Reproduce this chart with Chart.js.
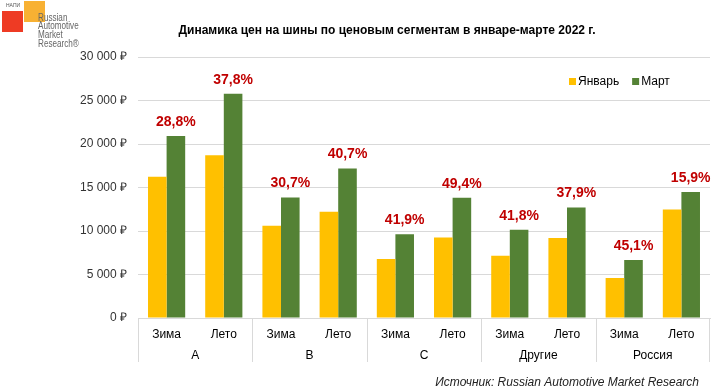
<!DOCTYPE html>
<html>
<head>
<meta charset="utf-8">
<script src="https://cdn.jsdelivr.net/npm/chart.js@4.4.1/dist/chart.umd.min.js"></script>
<style>
  html, body { margin: 0; padding: 0; background: #fff; }
  #wrap { width: 713px; height: 391px; position: relative; }
</style>
</head>
<body>
<div id="wrap"><canvas id="chart" width="713" height="391"></canvas></div>
<script>
const subLabels = ['Зима', 'Лето', 'Зима', 'Лето', 'Зима', 'Лето', 'Зима', 'Лето', 'Зима', 'Лето'];
const groups = ['A', 'B', 'C', 'Другие', 'Россия'];
const january = [16250, 18700, 10600, 12200, 6780, 9250, 7150, 9200, 4600, 12480];
const march = [20930, 25770, 13850, 17170, 9620, 13820, 10140, 12690, 6670, 14470];
const growth = ['28,8%', '37,8%', '30,7%', '40,7%', '41,9%', '49,4%', '41,8%', '37,9%', '45,1%', '15,9%'];

const FONT = 'Arial, "Liberation Sans", sans-serif';
const fmtRub = (v) => String(v).replace(/\B(?=(\d{3})+(?!\d))/g, ' ') + ' ₽';

const extras = {
  id: 'extras',
  afterDraw(chart) {
    const ctx = chart.ctx;
    const x = chart.scales.x;
    const area = chart.chartArea;
    ctx.save();

    // growth labels above March bars
    const meta = chart.getDatasetMeta(1);
    ctx.font = 'bold 14px ' + FONT;
    ctx.fillStyle = '#c00000';
    ctx.textAlign = 'center';
    ctx.textBaseline = 'bottom';
    meta.data.forEach((bar, i) => {
      ctx.fillText(growth[i], bar.x, bar.y - 7);
    });

    // group separators and group labels
    const step = x.getPixelForValue(1) - x.getPixelForValue(0);
    ctx.strokeStyle = '#d9d9d9';
    ctx.lineWidth = 1;
    ctx.font = '12px ' + FONT;
    ctx.fillStyle = '#000';
    ctx.textBaseline = 'middle';
    groups.forEach((g, gi) => {
      const left = x.getPixelForValue(gi * 2) - step / 2;
      const right = x.getPixelForValue(gi * 2 + 1) + step / 2;
      ctx.beginPath();
      ctx.moveTo(Math.round(left) + 0.5, area.bottom);
      ctx.lineTo(Math.round(left) + 0.5, area.bottom + 44);
      if (gi === groups.length - 1) {
        ctx.moveTo(Math.round(right) - 0.5, area.bottom);
        ctx.lineTo(Math.round(right) - 0.5, area.bottom + 44);
      }
      ctx.stroke();
      ctx.fillText(g, (left + right) / 2, area.bottom + 38);
    });

    // title
    ctx.font = 'bold 12px ' + FONT;
    ctx.fillStyle = '#000';
    ctx.textAlign = 'center';
    ctx.fillText('Динамика цен на шины по ценовым сегментам в январе-марте 2022 г.', 387, 31);

    // legend
    ctx.font = '12px ' + FONT;
    ctx.textAlign = 'left';
    let lx = 569;
    chart.data.datasets.forEach((ds) => {
      ctx.fillStyle = ds.backgroundColor;
      ctx.fillRect(lx, 78, 7, 7);
      ctx.fillStyle = '#000';
      ctx.fillText(ds.label, lx + 9, 82);
      lx += 9 + ctx.measureText(ds.label).width + 13;
    });

    // source
    ctx.font = 'italic 12px ' + FONT;
    ctx.textAlign = 'right';
    ctx.fillStyle = '#222';
    ctx.fillText('Источник: Russian Automotive Market Research', 699, 383);

    // logo
    ctx.fillStyle = '#ee3b24';
    ctx.fillRect(2, 11, 21, 21);
    ctx.fillStyle = '#f8b133';
    ctx.fillRect(24, 1, 21, 21);
    ctx.fillStyle = '#555';
    ctx.font = '5px ' + FONT;
    ctx.textAlign = 'left';
    ctx.fillText('НАПИ', 6, 6);
    ctx.save();
    ctx.translate(38, 0);
    ctx.scale(0.74, 1);
    ctx.font = '11px ' + FONT;
    ctx.fillStyle = '#666';
    ['Russian', 'Automotive', 'Market', 'Research®'].forEach((t, i) => {
      ctx.fillText(t, 0, 17.5 + i * 8.7);
    });
    ctx.restore();
    ctx.restore();
  }
};

new Chart(document.getElementById('chart'), {
  type: 'bar',
  data: {
    labels: subLabels,
    datasets: [
      {
        label: 'Январь',
        data: january,
        backgroundColor: '#ffc000',
        barPercentage: 1,
        categoryPercentage: 0.65,
      },
      {
        label: 'Март',
        data: march,
        backgroundColor: '#548235',
        barPercentage: 1,
        categoryPercentage: 0.65,
      },
    ],
  },
  options: {
    responsive: false,
    animation: false,
    layout: { padding: { top: 57, right: 3, left: 0, bottom: 0 } },
    plugins: {
      legend: { display: false },
      tooltip: { enabled: false },
    },
    scales: {
      x: {
        grid: { display: false, drawTicks: false },
        border: { color: '#d9d9d9' },
        ticks: { font: { family: FONT, size: 12 }, color: '#000', padding: 9, maxRotation: 0, autoSkip: false },
        afterFit: (s) => { s.height = 73; },
      },
      y: {
        min: 0,
        max: 30000,
        grid: { color: '#d9d9d9', drawTicks: false },
        border: { display: false },
        ticks: {
          stepSize: 5000,
          padding: 11,
          font: { family: FONT, size: 12 },
          color: '#333',
          callback: (v) => fmtRub(v),
        },
        afterFit: (s) => { s.width = 138; },
      },
    },
  },
  plugins: [extras],
});
</script>
</body>
</html>
